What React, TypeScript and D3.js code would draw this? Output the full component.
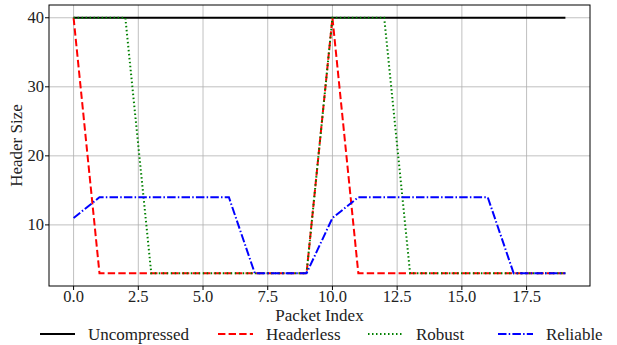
import * as d3 from "d3";

const packetIdx = d3.range(0, 20);
const uncompressed = [40, 40, 40, 40, 40, 40, 40, 40, 40, 40, 40, 40, 40, 40, 40, 40, 40, 40, 40, 40];
const headerless = [40, 3, 3, 3, 3, 3, 3, 3, 3, 3, 40, 3, 3, 3, 3, 3, 3, 3, 3, 3];
const robust = [40, 40, 40, 3, 3, 3, 3, 3, 3, 3, 40, 40, 40, 3, 3, 3, 3, 3, 3, 3];
const reliable = [11, 14, 14, 14, 14, 14, 14, 3, 3, 3, 11, 14, 14, 14, 14, 14, 14, 3, 3, 3];

const xTicks = [0, 2.5, 5, 7.5, 10, 12.5, 15, 17.5];
const yTicks = [10, 20, 30, 40];

const seriesList = [
  { name: "Uncompressed", values: uncompressed, color: "#000000", dash: "" },
  { name: "Headerless", values: headerless, color: "#ff0000", dash: "7.4,3.2" },
  { name: "Robust", values: robust, color: "#008000", dash: "1.5,2.5" },
  { name: "Reliable", values: reliable, color: "#0000ff", dash: "8.5,2.2,1.5,2.2" },
];

const W = 617;
const H = 345;
const FONT = "Liberation Serif, DejaVu Serif, serif";

export default function App() {
  const left = 49;
  const right = 590;
  const top = 5;
  const bottom = 286;

  const x = d3.scaleLinear().domain([-0.95, 19.95]).range([left, right]);
  const y = d3.scaleLinear().domain([1.15, 41.85]).range([bottom, top]);

  const line = (vals: number[]) =>
    d3
      .line<number>()
      .x((_, i) => x(packetIdx[i]))
      .y((d) => y(d))(vals) || "";

  const legendX = [40, 218, 368, 498];

  return (
    <svg
      width={W}
      height={H}
      style={{ position: "absolute", left: 0, top: 0, background: "#fff", fontFamily: FONT }}
    >
      {/* grid */}
      {xTicks.map((t) => (
        <line key={"gx" + t} x1={x(t)} x2={x(t)} y1={top} y2={bottom} stroke="#b0b0b0" strokeOpacity={0.8} strokeWidth={1} />
      ))}
      {yTicks.map((t) => (
        <line key={"gy" + t} x1={left} x2={right} y1={y(t)} y2={y(t)} stroke="#b0b0b0" strokeOpacity={0.8} strokeWidth={1} />
      ))}

      {seriesList.map((s) => (
        <path
          key={s.name}
          d={line(s.values)}
          fill="none"
          stroke={s.color}
          strokeWidth={2}
          strokeDasharray={s.dash || undefined}
        />
      ))}

      <rect x={left} y={top} width={right - left} height={bottom - top} fill="none" stroke="#000" strokeWidth={1} />

      {/* x ticks */}
      {xTicks.map((t) => (
        <g key={"xt" + t}>
          <line x1={x(t)} x2={x(t)} y1={bottom} y2={bottom + 4} stroke="#000" />
          <text x={x(t)} y={302} textAnchor="middle" fontSize={16.5} fill="#222">
            {t.toFixed(1)}
          </text>
        </g>
      ))}
      {yTicks.map((t) => (
        <g key={"yt" + t}>
          <line x1={left - 4} x2={left} y1={y(t)} y2={y(t)} stroke="#000" />
          <text x={left - 5} y={y(t) + 5.5} textAnchor="end" fontSize={16.5} fill="#222">
            {t}
          </text>
        </g>
      ))}

      <text x={(left + right) / 2} y={321} textAnchor="middle" fontSize={17} fill="#222">
        Packet Index
      </text>
      <text
        transform={`translate(22,${(top + bottom) / 2}) rotate(-90)`}
        textAnchor="middle"
        fontSize={17}
        fill="#222"
      >
        Header Size
      </text>

      {/* legend */}
      {seriesList.map((s, i) => (
        <g key={"lg" + s.name} transform={`translate(${legendX[i]},334)`}>
          <line x1={0} x2={35} y1={0} y2={0} stroke={s.color} strokeWidth={2} strokeDasharray={s.dash || undefined} />
          <text x={48} y={6} fontSize={17} fill="#222">
            {s.name}
          </text>
        </g>
      ))}
    </svg>
  );
}
